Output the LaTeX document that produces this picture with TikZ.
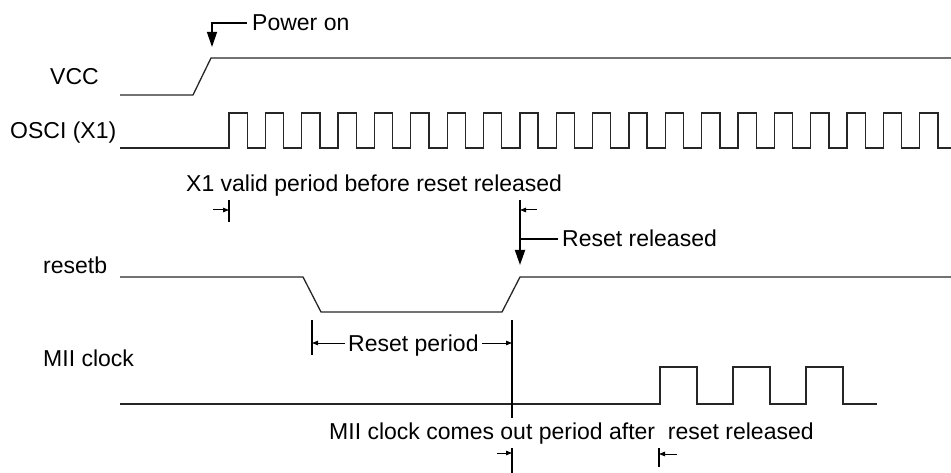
\documentclass[tikz,border=0pt]{standalone}
\usepackage{fontspec}
\setmainfont{Liberation Sans}
\usetikzlibrary{arrows.meta}
\begin{document}
\begin{tikzpicture}[x=1pt,y=-1pt,
  sig/.style={line width=1.3pt, black!85, line join=miter},
  lbl/.style={anchor=base west, inner sep=0pt, font=\fontsize{23}{27}\selectfont},
  bigarrow/.style={-{Triangle[length=15pt,width=10pt]}, line width=1.3pt},
  dimarrow/.style={-{Triangle[length=6pt,width=4.5pt]}, line width=1pt},
  tickline/.style={line width=1.3pt}]
\useasboundingbox (0,0) rectangle (951,473);
% labels
\node[lbl] (vcc) at (50,85) {VCC};
\node[lbl] (osci) at (10,139) {OSCI (X1)};
\node[lbl] (rst) at (43,274) {resetb};
\node[lbl] (mii) at (43,366) {MII clock};
\node[lbl] (pwr) at (252,31) {Power on};
\node[lbl] (x1v) at (186,192) {X1 valid period before reset released};
\node[lbl] (rrel) at (562,247) {Reset released};
\node[lbl] (rper) at (348,351) {Reset period};
\node[lbl] (miit) at (329,439) {MII clock comes out period after\ \ reset released};
% VCC
\draw[sig] (120,95) -- (193,95) -- (211,58) -- (951,58);
% OSCI
\draw[sig] (120,148) -- (229,148)
  \foreach \k in {0,...,19} { -- ++(0,-35) -- ++(18.18,0) -- ++(0,35) -- ++(18.18,0) };
% resetb
\draw[sig] (120,277) -- (303,277) -- (321,312) -- (502,312) -- (520,277) -- (951,277);
% MII clock
\draw[sig] (120,404) -- (660,404) -- (660,367) -- (697,367) -- (697,404) -- (733,404)
  -- (733,367) -- (770,367) -- (770,404) -- (806,404) -- (806,367) -- (843,367)
  -- (843,404) -- (877,404);
% Power on
\coordinate (pwrtip) at (212,47);
\coordinate (pwrend) at (247,23);
\draw[bigarrow] (pwrend) -- (212,23) -- (pwrtip);
% X1 valid period
\coordinate (x1a) at (229,200);
\coordinate (x1b) at (229,222);
\draw[tickline] (x1a) -- (x1b);
\draw[dimarrow] (213,210) -- (x1a |- 0,210);
% Reset released
\coordinate (rra) at (520,200);
\coordinate (rrb) at (520,265);
\coordinate (rrc) at (558,239);
\draw[bigarrow, line width=1.8pt] (rra) -- (rrb);
\draw[dimarrow] (537,210) -- (rra |- 0,210);
\draw[line width=1.3pt] (rra |- rrc) -- (rrc);
% Reset period
\coordinate (rpl1) at (312,320);
\coordinate (rpl2) at (312,355);
\coordinate (rpr1) at (512,320);
\coordinate (rpr2) at (512,418);
\draw[tickline] (rpl1) -- (rpl2);
\draw[tickline] (rpr1) -- (rpr2);
\draw[dimarrow] (rper.west |- 0,343) ++(-3,0) -- (rpl1 |- 0,343);
\draw[dimarrow] (rper.east |- 0,343) ++(3,0) -- (rpr1 |- 0,343);
% MII clock comes out period
\coordinate (mb1) at (512,448);
\coordinate (mb2) at (512,473);
\coordinate (mc1) at (659,448);
\coordinate (mc2) at (659,467);
\draw[tickline] (mb1) -- (mb2);
\draw[tickline] (mc1) -- (mc2);
\draw[dimarrow] (497,453) -- (mb1 |- 0,453);
\draw[dimarrow] (677,454) -- (mc1 |- 0,454);
\end{tikzpicture}
\end{document}
